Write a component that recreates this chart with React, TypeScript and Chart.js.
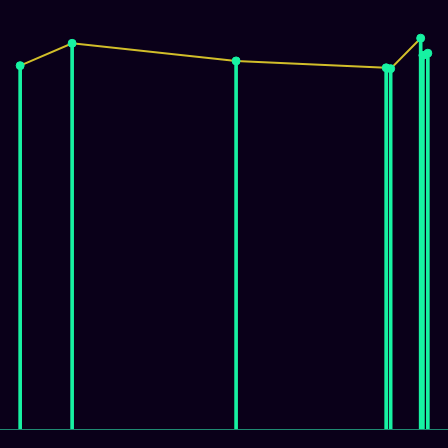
import { useRef, useEffect } from "react";
import { Chart, registerables } from "chart.js";

Chart.register(...registerables);

// day offsets of each reading and the reading itself
const days = [4.5, 16.1, 52.7, 86.2, 87.2, 93.9, 94.4, 95.5];
const readings = [84.7, 89.9, 85.8, 84.2, 84.0, 91.1, 87.1, 87.6];
// the trend line stops after this index
const trendEnd = 5;

const BG = "#0a0019";
const AQUA = "#17f2a2";
const YELLOW = "#d2be2a";

const App = () => {
  const chartRef = useRef<HTMLCanvasElement>(null);
  const chartInstanceRef = useRef<Chart | null>(null);

  useEffect(() => {
    if (!chartRef.current) return;
    if (chartInstanceRef.current) {
      chartInstanceRef.current.destroy();
    }
    const points = days.map((d, i) => ({ x: d, y: readings[i] }));

    chartInstanceRef.current = new Chart(chartRef.current, {
      type: "bar",
      data: {
        datasets: [
          {
            type: "line",
            data: points,
            borderColor: YELLOW,
            borderWidth: 2,
            tension: 0,
            pointRadius: 4,
            pointBorderWidth: 1,
            pointBackgroundColor: AQUA,
            pointBorderColor: AQUA,
            order: 0,
            clip: false,
            segment: {
              borderColor: (ctx: any) =>
                ctx.p0DataIndex >= trendEnd ? "transparent" : YELLOW,
            },
          },
          {
            type: "bar",
            data: points,
            backgroundColor: AQUA,
            barThickness: 3,
            order: 1,
          } as any,
        ],
      },
      options: {
        responsive: true,
        maintainAspectRatio: false,
        animation: false,
        layout: { autoPadding: false, padding: { top: 0, left: 0, right: 0, bottom: 19 } },
        plugins: {
          legend: { display: false },
          tooltip: { enabled: false },
        },
        scales: {
          x: {
            type: "linear",
            offset: false,
            min: 0,
            max: 100,
            grid: { display: false, drawTicks: false },
            ticks: { display: false },
            border: { display: true, color: "#1f8a72", width: 1 },
          },
          y: {
            type: "linear",
            min: 0,
            max: 100,
            display: false,
          },
        },
      },
    });

    return () => {
      chartInstanceRef.current?.destroy();
    };
  }, []);

  useEffect(() => {
    document.body.style.margin = "0";
    document.body.style.background = BG;
  }, []);

  return (
    <div style={{ position: "relative", width: 448, height: 448, background: BG }}>
      <canvas ref={chartRef} />
    </div>
  );
};

export default App;
